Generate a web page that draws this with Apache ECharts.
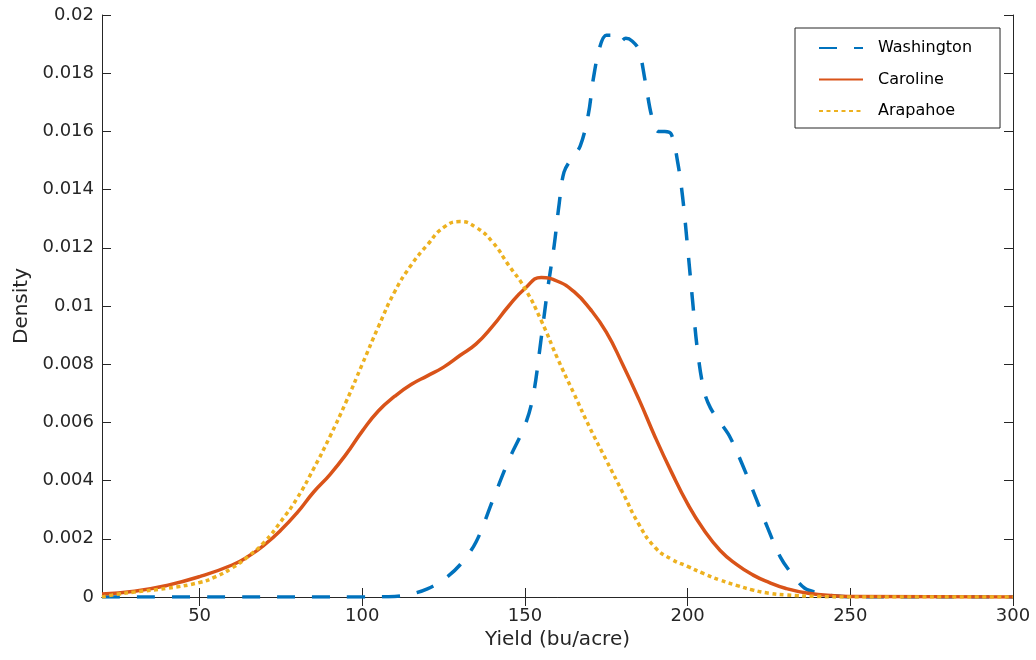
<!DOCTYPE html>
<html>
<head>
<meta charset="utf-8">
<script src="https://cdn.jsdelivr.net/npm/echarts@6/dist/echarts.min.js"></script>
<style>
  html, body { margin: 0; padding: 0; background: #fff; }
  #chart { width: 1036px; height: 660px; }
</style>
</head>
<body>
<div id="chart"></div>
<script>
// ==========================================
// data
// ==========================================
const seriesNames = ['Washington', 'Caroline', 'Arapahoe'];

const washingtonX = [20, 60, 100, 110, 115, 120, 125, 130, 135, 140, 145, 150, 152.5, 155, 157, 159, 160.5, 162, 164.5, 167, 169.5, 171, 173, 175, 177, 179, 181, 183, 185, 187, 189, 191, 193, 195, 197, 198.5, 200, 201.5, 203, 205, 207, 210, 213, 217, 221, 224.5, 228.5, 232, 236, 240, 245, 250, 300];
const washingtonY = [0, 0, 0, 0.00002, 0.0001, 0.00028, 0.0006, 0.0011, 0.0019, 0.0033, 0.0047, 0.0059, 0.0069, 0.0089, 0.0106, 0.0121, 0.0135, 0.0146, 0.0151, 0.0155, 0.0166, 0.0178, 0.0189, 0.0193, 0.0193, 0.01905, 0.0192, 0.0191, 0.0188, 0.0177, 0.0165, 0.0160, 0.0160, 0.0159, 0.0149, 0.0137, 0.0120, 0.0102, 0.0085, 0.0071, 0.0065, 0.0060, 0.0055, 0.0045, 0.0034, 0.0024, 0.00137, 0.0008, 0.0003, 0.00015, 0.00004, 0, 0];

const carolineX = [20, 30, 40, 50, 60, 65, 70, 75, 80, 85, 90, 95, 100, 105, 110, 115, 120, 125, 130, 135, 140, 145, 150, 155, 160, 165, 170, 175, 180, 185, 190, 195, 200, 205, 210, 215, 220, 225, 230, 237, 245, 250, 300];
const carolineY = [0.0001, 0.0002, 0.0004, 0.0007, 0.0011, 0.0014, 0.0018, 0.0023, 0.0029, 0.0036, 0.0042, 0.0049, 0.0057, 0.0064, 0.0069, 0.0073, 0.0076, 0.0079, 0.0083, 0.0087, 0.0093, 0.0100, 0.0106, 0.01098, 0.01085, 0.0105, 0.0099, 0.0091, 0.0080, 0.0068, 0.0055, 0.0043, 0.0032, 0.0023, 0.0016, 0.00112, 0.00076, 0.0005, 0.0003, 0.00013, 0.00004, 0.00002, 0];

const arapahoeX = [20, 25, 30, 40, 50, 55, 60, 65, 70, 75, 80, 85, 90, 95, 100, 105, 110, 115, 120, 125, 130, 135, 140, 145, 150, 155, 160, 165, 170, 175, 180, 185, 190, 195, 200, 205, 210, 215, 220, 225, 230, 240, 250, 300];
const arapahoeY = [0, 0.0001, 0.00017, 0.0003, 0.0005, 0.0007, 0.001, 0.0014, 0.0019, 0.0026, 0.0034, 0.0044, 0.0055, 0.0067, 0.0080, 0.0093, 0.0105, 0.0114, 0.0121, 0.0127, 0.0129, 0.0127, 0.0122, 0.0114, 0.0106, 0.0095, 0.0082, 0.0070, 0.0058, 0.0047, 0.0036, 0.0025, 0.0017, 0.0013, 0.00105, 0.0008, 0.00058, 0.0004, 0.00024, 0.00013, 0.00007, 0.00002, 0, 0];

const xTicks = [50, 100, 150, 200, 250, 300];
const yTicks = [0, 0.002, 0.004, 0.006, 0.008, 0.01, 0.012, 0.014, 0.016, 0.018, 0.02];
const yTickLabels = ['0', '0.002', '0.004', '0.006', '0.008', '0.01', '0.012', '0.014', '0.016', '0.018', '0.02'];

// ==========================================
// styles
// ==========================================
const FONT = 'DejaVu Sans';
const AXIS_COLOR = '#262626';
const colors = ['#0072BD', '#D95319', '#EDB120'];

function pairs(xs, ys) {
    return xs.map((x, i) => [x, ys[i]]);
}

const axisLineStyle = { show: true, lineStyle: { color: AXIS_COLOR, width: 1 } };
const tickStyle = { show: true, inside: true, length: 9, lineStyle: { color: AXIS_COLOR } };

const chart = echarts.init(document.getElementById('chart'));

chart.setOption({
    backgroundColor: '#fff',
    animation: false,
    grid: { left: 102, right: 23, top: 15, bottom: 63, containLabel: false },
    legend: {
        left: 795,
        top: 28,
        orient: 'vertical',
        data: seriesNames,
        itemWidth: 44,
        itemHeight: 14,
        itemGap: 15.5,
        padding: [12, 28, 9, 23],
        borderColor: AXIS_COLOR,
        borderWidth: 1,
        backgroundColor: '#fff',
        itemStyle: { opacity: 0 },
        textStyle: { fontFamily: FONT, fontSize: 16, color: '#000', padding: [0, 0, 0, 10] }
    },
    xAxis: [{
        type: 'value',
        position: 'bottom',
        min: 20,
        max: 300,
        name: 'Yield (bu/acre)',
        nameLocation: 'middle',
        nameGap: 33,
        nameTextStyle: { fontFamily: FONT, fontSize: 20, color: AXIS_COLOR },
        axisLine: axisLineStyle,
        axisTick: Object.assign({ customValues: xTicks }, tickStyle),
        axisLabel: { customValues: xTicks, margin: 10, fontFamily: FONT, fontSize: 18, color: AXIS_COLOR },
        splitLine: { show: false }
    }, {
        type: 'value',
        position: 'top',
        min: 20,
        max: 300,
        axisLine: axisLineStyle,
        axisTick: Object.assign({ customValues: xTicks }, tickStyle),
        axisLabel: { show: false },
        splitLine: { show: false }
    }],
    yAxis: [{
        type: 'value',
        position: 'left',
        min: 0,
        max: 0.02,
        name: 'Density',
        nameLocation: 'middle',
        nameGap: 66,
        nameTextStyle: { fontFamily: FONT, fontSize: 20, color: AXIS_COLOR },
        axisLine: axisLineStyle,
        axisTick: Object.assign({ customValues: yTicks }, tickStyle),
        axisLabel: {
            customValues: yTicks,
            margin: 8,
            fontFamily: FONT,
            fontSize: 18,
            color: AXIS_COLOR,
            formatter: v => yTickLabels[Math.round(v / 0.002)]
        },
        splitLine: { show: false }
    }, {
        type: 'value',
        position: 'right',
        min: 0,
        max: 0.02,
        axisLine: axisLineStyle,
        axisTick: Object.assign({ customValues: yTicks }, tickStyle),
        axisLabel: { show: false },
        splitLine: { show: false }
    }],
    series: [{
        name: seriesNames[0],
        type: 'line',
        data: pairs(washingtonX, washingtonY),
        smooth: 0.35,
        symbol: 'none',
        color: colors[0],
        lineStyle: { color: colors[0], width: 3.5, type: [18, 17], cap: 'butt' }
    }, {
        name: seriesNames[1],
        type: 'line',
        data: pairs(carolineX, carolineY),
        smooth: 0.5,
        symbol: 'none',
        color: colors[1],
        lineStyle: { color: colors[1], width: 3.5, type: 'solid' }
    }, {
        name: seriesNames[2],
        type: 'line',
        data: pairs(arapahoeX, arapahoeY),
        smooth: 0.5,
        symbol: 'none',
        color: colors[2],
        lineStyle: { color: colors[2], width: 3.5, type: [4, 3.5], cap: 'butt' }
    }]
});
</script>
</body>
</html>
